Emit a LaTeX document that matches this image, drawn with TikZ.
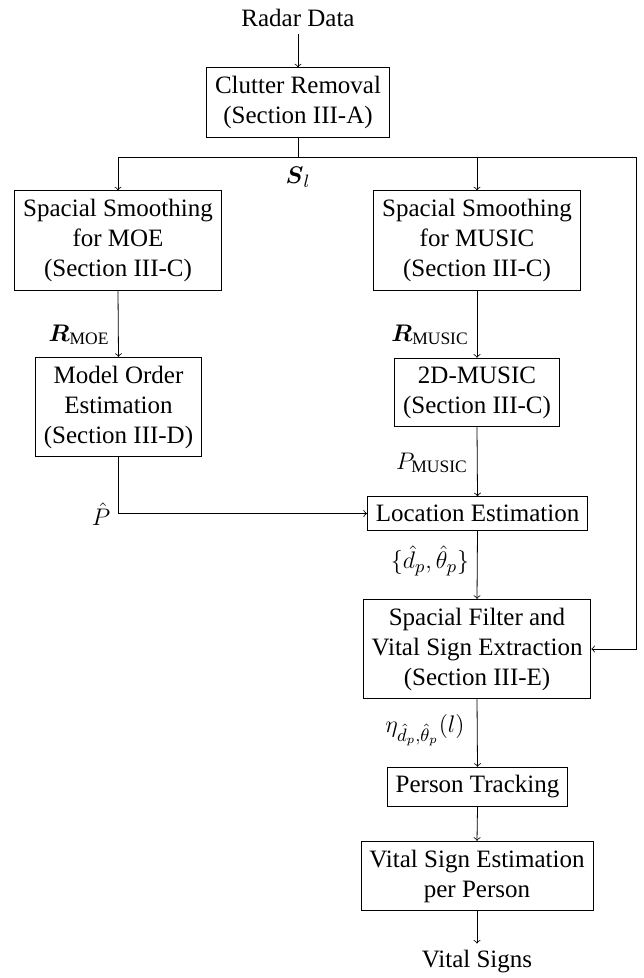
\documentclass[tikz,border=0pt]{standalone}
\usepackage{amsmath}
\usepackage{fontspec}
\setmainfont{Liberation Serif}
\usetikzlibrary{arrows}
\begin{document}
\begin{tikzpicture}[x=0.5pt,y=-0.5pt,
  font=\fontsize{12.5}{15}\selectfont,
  box/.style={draw,align=center,inner sep=4.2pt},
  lbl/.style={inner sep=0pt},
  arr/.style={->}]
\useasboundingbox (0,0) rectangle (643,978);
\node (radar) at (298,18) {Radar Data};
\node[box] (clut) at (298,102.5) {Clutter Removal\\(Section III-A)};
\node[box] (ssmoe) at (118,240.5) {Spacial Smoothing\\for MOE\\(Section III-C)};
\node[box] (ssmus) at (477,240.5) {Spacial Smoothing\\for MUSIC\\(Section III-C)};
\node[box] (moe) at (118.5,407) {Model Order\\Estimation\\(Section III-D)};
\node[box] (music) at (477,392.5) {2D-MUSIC\\(Section III-C)};
\node[box] (loc) at (477.5,513.5) {Location Estimation};
\node[box] (filt) at (477,649) {Spacial Filter and\\Vital Sign Extraction\\(Section III-E)};
\node[box] (track) at (477.5,787) {Person Tracking};
\node[box] (vse) at (477,876) {Vital Sign Estimation\\per Person};
\node (vital) at (477,962) {Vital Signs};

\coordinate (split) at (298,157);
\coordinate (rt) at (636,157);

\draw[arr] (radar) -- (clut);
\draw (clut.south) -- (split);
\draw[arr] (split) -| (ssmoe.north);
\draw[arr] (split) -| (ssmus.north);
\draw[arr] (split) -- (rt) |- (filt.east);
\draw[arr] (ssmoe.south) -- (moe.north);
\draw[arr] (ssmus.south) -- (music.north);
\draw[arr] (music.south) -- (loc.north);
\draw[arr] (moe.south) |- (loc.west);
\draw[arr] (loc.south) -- (filt.north);
\draw[arr] (filt.south) -- (track.north);
\draw[arr] (track.south) -- (vse.north);
\draw[arr] (vse.south) -- (vital.north);

\node[lbl] (sl) at (298,177) {$\boldsymbol{S}_l$};
\node[lbl] (rmoe) at (79,335) {$\boldsymbol{R}_{\mathrm{MOE}}$};
\node[lbl] (rmus) at (430,335) {$\boldsymbol{R}_{\mathrm{MUSIC}}$};
\node[lbl] (pmus) at (432,463) {$P_{\mathrm{MUSIC}}$};
\node[lbl] (phat) at (101,514) {$\hat{P}$};
\node[lbl] (dth) at (430,561) {$\{\hat{d}_p,\hat{\theta}_p\}$};
\node[lbl] (eta) at (425,730) {$\eta_{\hat{d}_p,\hat{\theta}_p}(l)$};
\end{tikzpicture}
\end{document}
